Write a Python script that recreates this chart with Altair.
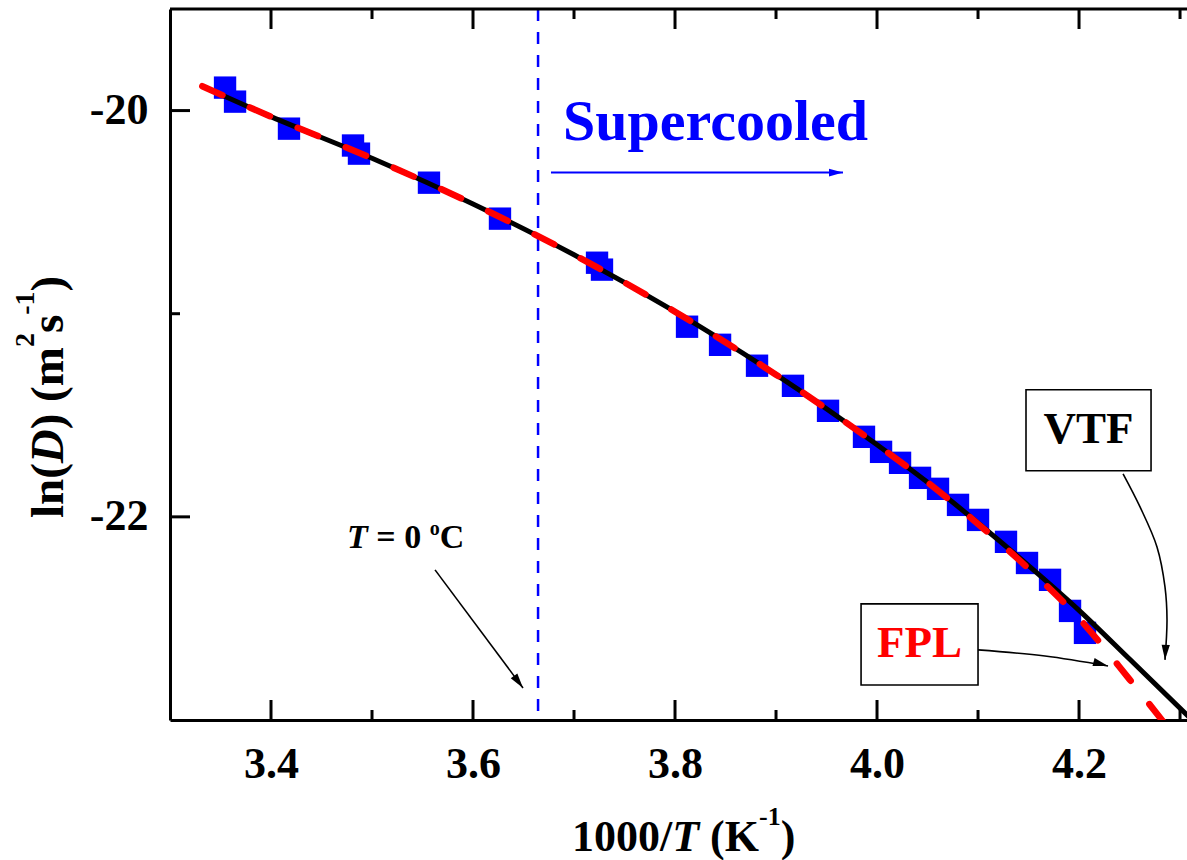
import altair as alt
import pandas as pd

FONT = "Liberation Serif"

# ---------------- data ----------------
inv_T = [3.3545, 3.3644, 3.4178, 3.4812, 3.4871, 3.5564, 3.6267, 3.7228, 3.7277,
         3.8119, 3.8446, 3.8812, 3.9168, 3.9515, 3.9871, 4.0040, 4.0228, 4.0426,
         4.0604, 4.0802, 4.1000, 4.1277, 4.1485, 4.1713, 4.1911, 4.2059]
lnD = [-19.887, -19.956, -20.089, -20.172, -20.212, -20.355, -20.532, -20.749, -20.783,
       -21.064, -21.153, -21.256, -21.355, -21.478, -21.606, -21.680, -21.734, -21.808,
       -21.862, -21.941, -22.015, -22.123, -22.227, -22.310, -22.463, -22.571]

vtf_x = [3.332, 3.40, 3.50, 3.60, 3.70, 3.80, 3.90, 4.00, 4.05, 4.10, 4.15, 4.20, 4.25, 4.31]
vtf_y = [-19.88, -20.03, -20.235, -20.46, -20.71, -20.99, -21.30, -21.645, -21.83, -22.03,
         -22.24, -22.46, -22.70, -22.99]
fpl_x = [3.332, 3.40, 3.50, 3.60, 3.70, 3.80, 3.90, 4.00, 4.05, 4.10, 4.15, 4.20, 4.25, 4.29]
fpl_y = [-19.88, -20.03, -20.235, -20.46, -20.71, -20.99, -21.30, -21.645, -21.83, -22.035,
         -22.255, -22.50, -22.80, -23.05]

x_major = [3.4, 3.6, 3.8, 4.0, 4.2]
x_minor = [3.5, 3.7, 3.9, 4.1, 4.3]
y_major = [-20, -22]
y_minor = [-21]

t_zero = 3.6644          # 1000/T at T = 0 C (dashed line)

# annotation positions (data units)
super_pos = (3.6891, -20.143)
super_arrow_x = [3.6772, 3.9663]
super_arrow_y = [-20.305, -20.305]
t0_pos = (3.4752, -22.153)
t0_arrow_x = [3.5624, 3.6495]
t0_arrow_y = [-22.261, -22.842]
vtf_box = (4.1475, 4.2713, -21.374, -21.773)
vtf_label = (4.2094, -21.6355)
vtf_arrow_x = [4.2436, 4.2604, 4.2772, 4.2851, 4.2871, 4.2851]
vtf_arrow_y = [-21.788, -21.951, -22.148, -22.345, -22.507, -22.704]
fpl_box = (3.9842, 4.1000, -22.4286, -22.8276)
fpl_label = (4.0421, -22.6897)
fpl_arrow_x = [4.1000, 4.1663, 4.2287]
fpl_arrow_y = [-22.655, -22.685, -22.734]

# ---------------- layout ----------------
W, H = 1017, 711
XS = alt.Scale(domain=[3.3, 4.3069], nice=False, zero=False)
YS = alt.Scale(domain=[-23, -19.5], nice=False, zero=False)
BLUE = "#0000FF"
RED = "#FF0000"
ARROW = "M0,0L-2,-0.55L-2,0.55Z"

AX_X = alt.Axis(
    values=x_major, format=".1f", title=None, grid=False, ticks=False, tickSize=0,
    labelPadding=22, labelFont=FONT, labelFontWeight="bold", labelFontSize=44,
    labelColor="black", labelOverlap=False, labelFlush=False,
    domainColor="black", domainWidth=3)
AX_Y = alt.Axis(
    values=y_major, labelExpr="'-' + format(abs(datum.value), 'd')", title=None,
    grid=False, ticks=False, tickSize=0, labelPadding=22, labelFont=FONT,
    labelFontWeight="bold", labelFontSize=44, labelColor="black",
    labelOverlap=False, labelFlush=False, domainColor="black", domainWidth=3)


def X(field="x"):
    return alt.X(f"{field}:Q", scale=XS, axis=AX_X)


def Y(field="y"):
    return alt.Y(f"{field}:Q", scale=YS, axis=AX_Y)


def txt(text, x, y, size, dx=0.0, dy=0.0, style="normal", color="black",
        angle=0, align="left", pixel=False):
    mk = alt.Chart(pd.DataFrame({"x": [x], "y": [y]})).mark_text(
        text=text, font=FONT, fontSize=size, fontWeight="bold", fontStyle=style,
        color=color, align=align, baseline="alphabetic", dx=dx, dy=dy, angle=angle)
    if pixel:
        return mk.encode(x=alt.value(x), y=alt.value(y))
    return mk.encode(x=X(), y=Y())


def arrow(xs, ys, color, head_angle, width=1.6, size=225, interp="linear"):
    df = pd.DataFrame({"x": xs, "y": ys, "i": list(range(len(xs)))})
    line = alt.Chart(df).mark_line(color=color, strokeWidth=width, interpolate=interp).encode(
        x=X(), y=Y(), order="i:Q")
    head = alt.Chart(pd.DataFrame({"x": [xs[-1]], "y": [ys[-1]]})).mark_point(
        shape=ARROW, filled=True, size=size, color=color, opacity=1,
        strokeWidth=0, angle=head_angle).encode(x=X(), y=Y())
    return [line, head]


def box(b):
    df = pd.DataFrame({"x": [b[0]], "x2": [b[1]], "y": [b[2]], "y2": [b[3]]})
    return alt.Chart(df).mark_rect(fill="white", stroke="black", strokeWidth=1.6).encode(
        x=X(), x2="x2:Q", y=Y(), y2="y2:Q")


# ---------------- layers ----------------
pts = pd.DataFrame({"x": inv_T, "y": lnD})
squares = alt.Chart(pts).mark_square(size=500, color=BLUE, opacity=1).encode(x=X(), y=Y())

vline = alt.Chart(pd.DataFrame({"x": [t_zero], "y": [-19.5], "y2": [-23.0]})).mark_rule(
    color=BLUE, strokeWidth=2.5, strokeDash=[12, 11]).encode(x=X(), y=Y(), y2="y2:Q")

vtf_line = alt.Chart(pd.DataFrame({"x": vtf_x, "y": vtf_y})).mark_line(
    color="black", strokeWidth=5, interpolate="monotone", clip=True).encode(x=X(), y=Y())
fpl_line = alt.Chart(pd.DataFrame({"x": fpl_x, "y": fpl_y})).mark_line(
    color=RED, strokeWidth=6.5, strokeDash=[22, 30], strokeCap="round",
    interpolate="monotone", clip=True).encode(x=X(), y=Y())

# frame: top line and inward ticks
top_line = alt.Chart(pd.DataFrame({"a": [0]})).mark_rule(color="black", strokeWidth=3).encode(
    x=alt.value(0), x2=alt.value(W), y=alt.value(0))


def xticks(vals, y0, y1):
    return alt.Chart(pd.DataFrame({"x": vals})).mark_rule(color="black", strokeWidth=3).encode(
        x=X(), y=alt.value(y0), y2=alt.value(y1))


def yticks(vals, length):
    return alt.Chart(pd.DataFrame({"y": vals})).mark_rule(color="black", strokeWidth=3).encode(
        y=Y(), x=alt.value(0), x2=alt.value(length))


ticks = [xticks(x_major, H, H - 20), xticks(x_minor, H, H - 10),
         xticks(x_major, 0, 20), xticks(x_minor, 0, 10),
         yticks(y_major, 20), yticks(y_minor, 10)]

# axis titles (pixel positions relative to the plot area)
xt_x, xt_y = 402, 842
x_title = [
    txt("1000/", xt_x, xt_y, 44, pixel=True),
    txt("T", xt_x, xt_y, 44, dx=100.2, style="italic", pixel=True),
    txt("(K", xt_x, xt_y, 44, dx=138.1, pixel=True),
    txt("-1", xt_x, xt_y, 26, dx=187.0, dy=-26, pixel=True),
    txt(")", xt_x, xt_y, 44, dx=208.7, pixel=True),
]
yt_x, yt_y = -107, 509
y_title = [
    txt("ln(", yt_x, yt_y, 47, angle=270, pixel=True),
    txt("D", yt_x, yt_y, 47, dx=54.8, style="italic", angle=270, pixel=True),
    txt(") (m", yt_x, yt_y, 47, dx=88.7, angle=270, pixel=True),
    txt("2", yt_x, yt_y, 28, dx=170.9, dy=-29, angle=270, pixel=True),
    txt("s", yt_x, yt_y, 47, dx=184.9, angle=270, pixel=True),
    txt("-1", yt_x, yt_y, 28, dx=203.2, dy=-29, angle=270, pixel=True),
    txt(")", yt_x, yt_y, 47, dx=226.5, angle=270, pixel=True),
]

annotations = [
    txt("Supercooled", super_pos[0], super_pos[1], 58, color=BLUE),
    *arrow(super_arrow_x, super_arrow_y, BLUE, 0, width=2, size=196),
    txt("T", t0_pos[0], t0_pos[1], 34, style="italic"),
    txt("= 0", t0_pos[0], t0_pos[1], 34, dx=29.3),
    txt("o", t0_pos[0], t0_pos[1], 20, dx=82.7, dy=-13),
    txt("C", t0_pos[0], t0_pos[1], 34, dx=92.7),
    *arrow(t0_arrow_x, t0_arrow_y, "black", 53.3),
    box(vtf_box),
    txt("VTF", vtf_label[0], vtf_label[1], 45, align="center"),
    *arrow(vtf_arrow_x, vtf_arrow_y, "black", 93, interp="catmull-rom"),
    box(fpl_box),
    txt("FPL", fpl_label[0], fpl_label[1], 45, color=RED, align="center"),
    *arrow(fpl_arrow_x, fpl_arrow_y, "black", 15, interp="catmull-rom"),
]

chart = alt.layer(
    squares, vline, vtf_line, fpl_line, *annotations, top_line, *ticks, *x_title, *y_title
).properties(
    width=W, height=H,
    padding={"left": 170, "top": 9, "right": 0, "bottom": 140},
    autosize=alt.AutoSizeParams(type="none"),
    background="white",
).configure_view(stroke="transparent")

chart.save("out.html", embed_options={"renderer": "svg", "actions": False})
